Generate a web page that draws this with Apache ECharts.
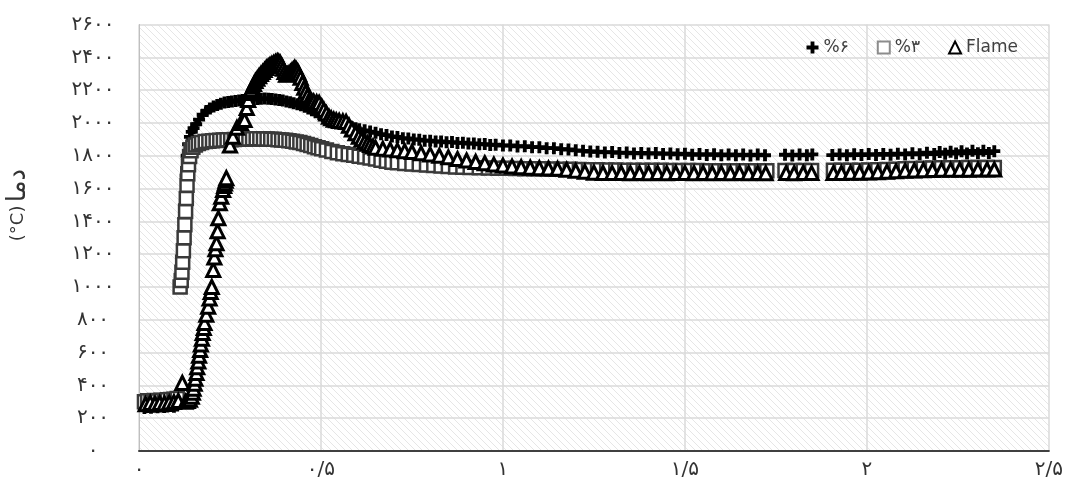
<!DOCTYPE html>
<html><head><meta charset="utf-8">
<script src="https://cdn.jsdelivr.net/npm/echarts@6/dist/echarts.min.js"></script>
<style>html,body{margin:0;padding:0;background:#fff}#c{width:1066px;height:482px}</style>
</head><body><div id="c"></div>
<script>
const xTickLabels = ['۰','۰/۵','۱','۱/۵','۲','۲/۵'];
const yTickLabels = ['۰','۲۰۰','۴۰۰','۶۰۰','۸۰۰','۱۰۰۰','۱۲۰۰','۱۴۰۰','۱۶۰۰','۱۸۰۰','۲۰۰۰','۲۲۰۰','۲۴۰۰','۲۶۰۰'];
const seriesNames = ['%۶','%۳','Flame'];
const yAxisTitleWord = 'دما';
const yAxisTitleUnit = '(°C)';

const plusPoints = [[0.015,262],[0.024,268],[0.033,264],[0.042,270],[0.051,266],[0.06,272],[0.069,268],[0.078,271],[0.087,274],[0.096,270],[0.105,278],[0.112,290],
[0.118,1100],[0.122,1300],[0.125,1500],[0.128,1680],[0.131,1800],[0.135,1870],[0.14,1915],[0.145,1945],[0.15,1968],[0.157,1992],[0.165,2020],[0.175,2050],[0.185,2072],[0.195,2088],[0.205,2100],[0.215,2110],[0.225,2117],[0.235,2124],[0.245,2128],[0.255,2131],[0.265,2134],[0.275,2137],[0.285,2139],[0.295,2141],[0.305,2143],[0.315,2145],[0.325,2146],[0.335,2148],[0.345,2149],[0.355,2148],[0.365,2146],[0.375,2143],[0.385,2140],[0.395,2136],[0.405,2131],[0.415,2126],[0.425,2120],[0.435,2114],[0.445,2107],[0.455,2098],[0.465,2088],[0.475,2077],[0.485,2065],[0.495,2053],[0.505,2041],[0.515,2030],[0.525,2019],[0.535,2009],[0.545,2001],[0.555,1994],[0.565,1987],[0.575,1980],[0.585,1974],[0.595,1968],[0.605,1962],[0.62,1955],[0.635,1947],[0.65,1940],[0.665,1931],[0.68,1926],[0.695,1917],[0.71,1914],[0.725,1906],[0.74,1905],[0.755,1899],[0.77,1898],[0.785,1892],[0.8,1892],[0.815,1886],[0.83,1887],[0.845,1882],[0.86,1883],[0.875,1878],[0.89,1879],[0.905,1874],[0.92,1875],[0.935,1870],[0.95,1871],[0.965,1866],[0.98,1867],[1.0,1862],[1.02,1863],[1.04,1857],[1.06,1858],[1.08,1852],[1.1,1852],[1.12,1846],[1.14,1846],[1.16,1840],[1.18,1838],[1.2,1833],[1.22,1830],[1.24,1826],[1.26,1824],[1.28,1820],[1.3,1822],[1.32,1817],[1.34,1819],[1.36,1814],[1.38,1817],[1.4,1813],[1.42,1816],[1.44,1811],[1.46,1814],[1.48,1809],[1.5,1812],[1.52,1806],[1.54,1810],[1.56,1805],[1.58,1809],[1.6,1803],[1.62,1808],[1.64,1803],[1.66,1807],[1.68,1802],[1.7,1807],[1.72,1803],[1.775,1806],[1.795,1802],[1.815,1807],[1.835,1803],[1.85,1808],[1.905,1804],[1.925,1808],[1.945,1803],[1.965,1809],[1.985,1804],[2.005,1810],[2.025,1805],[2.045,1811],[2.065,1806],[2.085,1812],[2.105,1808],[2.125,1815],[2.145,1809],[2.165,1818],[2.185,1810],[2.2,1822],[2.215,1812],[2.23,1825],[2.245,1813],[2.26,1828],[2.275,1814],[2.29,1830],[2.305,1815],[2.32,1830],[2.335,1816],[2.35,1828]];

const squarePoints = [[0.015,300],[0.024,306],[0.033,302],[0.042,308],[0.051,305],[0.06,310],[0.069,307],[0.078,312],[0.087,314],[0.096,316],[0.105,320],
[0.113,1000],[0.116,1040],[0.118,1090],[0.12,1150],[0.122,1220],[0.124,1300],[0.126,1380],[0.128,1460],[0.13,1540],[0.132,1620],[0.134,1690],[0.136,1745],[0.139,1795],[0.143,1830],[0.148,1852],[0.155,1866],[0.163,1875],[0.172,1881],[0.182,1886],[0.192,1889],[0.202,1891],[0.212,1893],[0.222,1895],[0.232,1896],[0.242,1897],[0.252,1898],[0.262,1899],[0.272,1900],[0.282,1901],[0.292,1902],[0.302,1902],[0.312,1903],[0.322,1903],[0.332,1903],[0.342,1902],[0.352,1902],[0.362,1901],[0.372,1900],[0.382,1898],[0.392,1896],[0.402,1894],[0.412,1891],[0.422,1888],[0.432,1884],[0.442,1880],[0.452,1875],[0.462,1869],[0.472,1862],[0.482,1855],[0.492,1848],[0.502,1842],[0.515,1835],[0.53,1826],[0.545,1818],[0.56,1812],[0.575,1808],[0.59,1803],[0.605,1797],[0.62,1792],[0.635,1786],[0.65,1780],[0.665,1773],[0.68,1766],[0.695,1761],[0.71,1757],[0.73,1753],[0.75,1749],[0.77,1746],[0.79,1743],[0.81,1740],[0.83,1737],[0.85,1734],[0.87,1732],[0.89,1730],[0.91,1728],[0.935,1727],[0.96,1725],[0.985,1724],[1.01,1723],[1.035,1722],[1.06,1721],[1.085,1720],[1.11,1720],[1.135,1719],[1.16,1718],[1.185,1717],[1.21,1716],[1.235,1715],[1.26,1714],[1.285,1713],[1.31,1713],[1.335,1712],[1.36,1712],[1.385,1711],[1.41,1711],[1.435,1711],[1.46,1710],[1.485,1710],[1.51,1710],[1.535,1710],[1.56,1709],[1.585,1709],[1.61,1709],[1.635,1709],[1.66,1709],[1.685,1709],[1.71,1709],[1.725,1709],[1.775,1710],[1.8,1710],[1.825,1710],[1.848,1710],[1.908,1711],[1.93,1711],[1.955,1712],[1.98,1712],[2.005,1713],[2.03,1714],[2.055,1716],[2.08,1718],[2.105,1720],[2.13,1722],[2.155,1724],[2.18,1725],[2.205,1726],[2.23,1727],[2.255,1727],[2.28,1728],[2.305,1728],[2.33,1729],[2.35,1729]];

const flamePoints = [[0.018,285],[0.031,293],[0.044,288],[0.057,292],[0.07,290],[0.083,295],[0.096,298],[0.108,305],[0.119,415],[0.128,300],[0.134,305],[0.14,312],[0.145,330],[0.148,355],[0.15,380],[0.153,410],[0.155,440],[0.158,475],[0.16,510],[0.163,545],[0.165,580],[0.168,615],[0.17,650],[0.173,685],[0.175,720],[0.178,750],[0.18,780],[0.185,830],[0.19,880],[0.194,930],[0.197,970],[0.2,1000],[0.204,1104],[0.207,1180],[0.21,1230],[0.213,1266],[0.216,1340],[0.218,1419],[0.222,1510],[0.226,1550],[0.231,1591],[0.234,1615],[0.236,1630],[0.238,1648],[0.24,1663],
[0.25,1862],[0.258,1915],[0.269,1970],[0.28,2000],[0.29,2018],[0.296,2091],[0.3,2140],[0.304,2183],[0.308,2200],[0.312,2220],[0.316,2238],[0.32,2255],[0.325,2270],[0.33,2285],[0.335,2298],[0.34,2310],[0.345,2322],[0.35,2335],[0.355,2344],[0.36,2352],[0.365,2358],[0.37,2364],[0.375,2370],[0.38,2375],[0.384,2372],[0.388,2366],[0.392,2350],[0.396,2330],[0.4,2310],[0.404,2293],[0.408,2296],[0.412,2300],[0.416,2310],[0.42,2318],[0.424,2326],[0.428,2335],[0.432,2326],[0.436,2315],[0.44,2296],[0.444,2275],[0.449,2244],[0.454,2215],[0.458,2190],[0.463,2165],[0.468,2140],[0.474,2135],[0.48,2130],[0.488,2126],[0.495,2122],[0.502,2100],[0.508,2080],[0.515,2058],[0.522,2037],[0.528,2028],[0.535,2020],[0.542,2016],[0.55,2012],[0.56,2009],[0.569,2006],[0.577,1983],[0.585,1960],[0.595,1937],[0.604,1915],[0.612,1900],[0.62,1885],[0.628,1875],[0.635,1865],[0.643,1856],[0.65,1848],[0.67,1842],[0.69,1838],[0.71,1833],[0.73,1828],[0.75,1823],[0.775,1815],[0.8,1808],[0.825,1800],[0.85,1790],[0.875,1780],[0.9,1771],[0.925,1762],[0.95,1754],[0.975,1746],[1.0,1740],[1.025,1734],[1.05,1730],[1.075,1727],[1.1,1724],[1.125,1722],[1.15,1720],[1.175,1714],[1.2,1708],[1.225,1702],[1.25,1697],[1.275,1695],[1.3,1694],[1.325,1695],[1.35,1693],[1.375,1694],[1.4,1693],[1.425,1695],[1.45,1693],[1.475,1695],[1.5,1694],[1.525,1693],[1.55,1695],[1.575,1693],[1.6,1694],[1.625,1693],[1.65,1695],[1.675,1693],[1.7,1694],[1.722,1693],[1.778,1694],[1.8,1693],[1.825,1695],[1.848,1694],[1.908,1694],[1.93,1695],[1.955,1696],[1.98,1697],[2.005,1698],[2.03,1700],[2.055,1702],[2.08,1705],[2.105,1708],[2.13,1710],[2.155,1712],[2.18,1713],[2.205,1714],[2.23,1714],[2.255,1715],[2.28,1715],[2.305,1716],[2.33,1716],[2.35,1716]];

// hatch pattern for the plot background
const T = 7;
const pc = document.createElement('canvas');
pc.width = T; pc.height = T;
const pctx = pc.getContext('2d');
pctx.fillStyle = '#ffffff'; pctx.fillRect(0,0,T,T);
pctx.strokeStyle = '#e6e6e6'; pctx.lineWidth = 1;
[-T,0,T].forEach(k => { pctx.beginPath(); pctx.moveTo(-1, -1 + k); pctx.lineTo(T + 1, T + 1 + k); pctx.stroke(); });

const plusPath = 'path://M3.4,0L6.6,0L6.6,3.4L10,3.4L10,6.6L6.6,6.6L6.6,10L3.4,10L3.4,6.6L0,6.6L0,3.4L3.4,3.4Z';
const font = "'DejaVu Sans', sans-serif";

const chart = echarts.init(document.getElementById('c'), null, {renderer: 'canvas'});
chart.setOption({
  animation: false,
  backgroundColor: '#ffffff',
  grid: {left: 139, right: 11, top: 24.5, bottom: 31, show: true, borderWidth: 0,
         backgroundColor: {image: pc, repeat: 'repeat'}},
  legend: {
    right: 43, top: 34, itemWidth: 12, itemHeight: 12, itemGap: 28,
    textStyle: {fontFamily: font, fontSize: 17, color: '#404040'},
    data: [
      {name: seriesNames[0]},
      {name: seriesNames[1], itemStyle: {borderColor: '#8c8c8c'}},
      {name: seriesNames[2]}
    ]
  },
  xAxis: {
    type: 'value', min: 0, max: 2.5, interval: 0.5,
    axisLine: {show: true, onZero: false, lineStyle: {color: '#404040', width: 2}},
    axisTick: {show: false},
    splitLine: {show: true, lineStyle: {color: '#dadada', width: 1.5}},
    axisLabel: {margin: 9, fontFamily: font, fontSize: 20, color: '#333333',
      formatter: v => xTickLabels[Math.round(v / 0.5)]}
  },
  yAxis: {
    type: 'value', min: 0, max: 2600, interval: 200,
    axisLine: {show: true, lineStyle: {color: '#bfbfbf', width: 1}},
    axisTick: {show: false},
    splitLine: {show: true, lineStyle: {color: '#dadada', width: 1.5}},
    axisLabel: {margin: 46, align: 'center', fontFamily: font, fontSize: 20, color: '#333333',
      formatter: v => yTickLabels[Math.round(v / 200)]}
  },
  graphic: [{
    type: 'text', x: 18, y: 205, rotation: Math.PI / 2,
    style: {
      text: '{u|' + yAxisTitleUnit + '} {w|' + yAxisTitleWord + '}',
      align: 'center', verticalAlign: 'middle',
      rich: {
        u: {fontFamily: font, fontSize: 18, fill: '#333333', color: '#333333'},
        w: {fontFamily: font, fontSize: 26, fill: '#333333', color: '#333333'}
      }
    }
  }],
  series: [
    {name: seriesNames[0], type: 'scatter', data: plusPoints, symbol: plusPath, symbolSize: 12,
     itemStyle: {color: '#000000', opacity: 1}},
    {name: seriesNames[1], type: 'scatter', data: squarePoints, symbol: 'rect', symbolSize: 13,
     itemStyle: {color: '#ffffff', borderColor: '#3a3a3a', borderWidth: 2.5, opacity: 1}},
    {name: seriesNames[2], type: 'scatter', data: flamePoints, symbol: 'triangle', symbolSize: 13,
     itemStyle: {color: '#ffffff', borderColor: '#000000', borderWidth: 3, opacity: 1}}
  ]
});
</script>
</body></html>
